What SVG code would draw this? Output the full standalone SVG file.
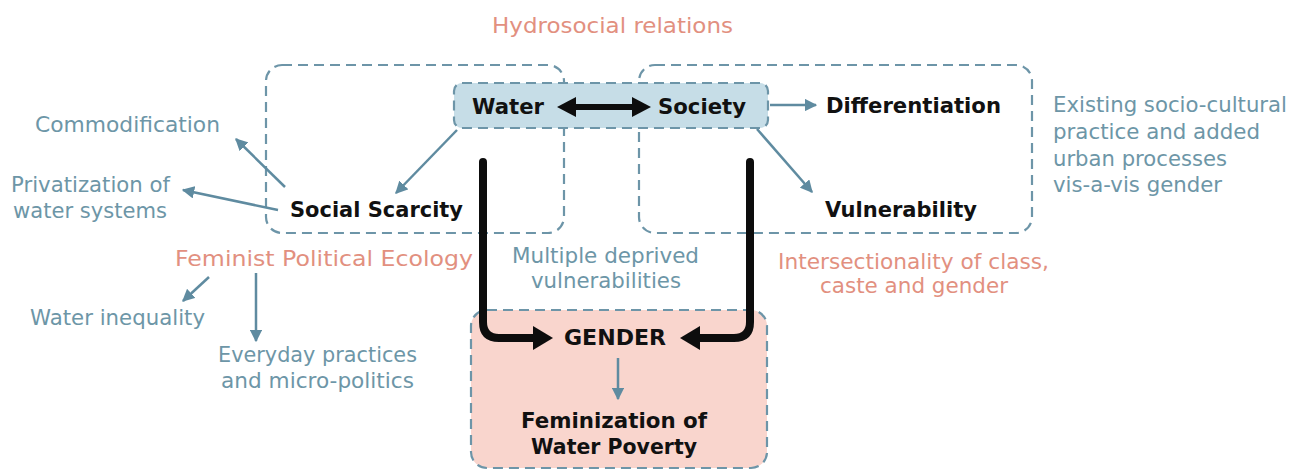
<svg xmlns="http://www.w3.org/2000/svg" width="1299" height="471" viewBox="0 0 1299 471">
<defs>
<marker id="ah" viewBox="0 0 10 10" refX="9" refY="5" markerWidth="5" markerHeight="5" orient="auto" markerUnits="strokeWidth">
<path d="M0,0 L10,5 L0,10 z" fill="#5f8ba0"/>
</marker>
<style>
.dash{fill:none;stroke:#6d95a8;stroke-width:2.2;stroke-dasharray:10 6}
.b{font-family:"DejaVu Sans","Open Sans","Liberation Sans",sans-serif;font-weight:700;font-size:22px;fill:#111}
.t{font-family:"DejaVu Sans","Open Sans","Liberation Sans",sans-serif;font-size:20.5px;fill:#6d96a7}
.s{font-family:"DejaVu Sans","Open Sans","Liberation Sans",sans-serif;font-size:21px;fill:#e2907f}
.ar{fill:none;stroke:#5f8ba0;stroke-width:2.5;marker-end:url(#ah)}
.thick{fill:none;stroke:#0d0d0d;stroke-width:8;stroke-linecap:round;stroke-linejoin:round}
</style>
</defs>
<rect width="1299" height="471" fill="#fff"/>

<g id="hydrosocial-left-box"><rect class="dash" x="266" y="65" width="298" height="168" rx="16"/></g>
<g id="hydrosocial-right-box"><rect class="dash" x="639" y="65" width="393" height="168" rx="16"/></g>
<g id="title"><text class="s" x="492" y="33" textLength="241" lengthAdjust="spacingAndGlyphs">Hydrosocial relations</text></g>

<g id="water-society">
<rect x="454" y="83" width="314" height="45" rx="8" fill="#c6dde7" stroke="#6d95a8" stroke-width="2.2" stroke-dasharray="10 6"/>
<text class="b" x="472" y="114" textLength="72" lengthAdjust="spacingAndGlyphs">Water</text>
<text class="b" x="658" y="114" textLength="88" lengthAdjust="spacingAndGlyphs">Society</text>
</g>

<g id="gender-box">
<rect x="471" y="310" width="296" height="158" rx="16" fill="#f9d5cd" stroke="#6d95a8" stroke-width="2.2" stroke-dasharray="10 6"/>
<text class="b" x="564" y="345" textLength="102" lengthAdjust="spacingAndGlyphs">GENDER</text>
<text class="b" x="521" y="428" textLength="186" lengthAdjust="spacingAndGlyphs">Feminization of</text>
<text class="b" x="531" y="454" textLength="166" lengthAdjust="spacingAndGlyphs">Water Poverty</text>
</g>

<g id="differentiation"><text class="b" x="826" y="113" textLength="175" lengthAdjust="spacingAndGlyphs">Differentiation</text></g>
<g id="vulnerability"><text class="b" x="825" y="217" textLength="152" lengthAdjust="spacingAndGlyphs">Vulnerability</text></g>
<g id="social-scarcity"><text class="b" x="290" y="217" textLength="173" lengthAdjust="spacingAndGlyphs">Social Scarcity</text></g>
<g id="commodification"><text class="t" x="35" y="132" textLength="185" lengthAdjust="spacingAndGlyphs">Commodification</text></g>
<g id="privatization"><text class="t" x="11" y="192" textLength="159" lengthAdjust="spacingAndGlyphs">Privatization of</text><text class="t" x="13" y="218" textLength="154" lengthAdjust="spacingAndGlyphs">water systems</text></g>
<g id="fpe"><text class="s" x="175" y="266" textLength="298" lengthAdjust="spacingAndGlyphs">Feminist Political Ecology</text></g>
<g id="water-inequality"><text class="t" x="30" y="325" textLength="175" lengthAdjust="spacingAndGlyphs">Water inequality</text></g>
<g id="everyday"><text class="t" x="218" y="362" textLength="199" lengthAdjust="spacingAndGlyphs">Everyday practices</text><text class="t" x="221" y="388" textLength="193" lengthAdjust="spacingAndGlyphs">and micro-politics</text></g>
<g id="multiple"><text class="t" x="512" y="263" textLength="187" lengthAdjust="spacingAndGlyphs">Multiple deprived</text><text class="t" x="531" y="288" textLength="150" lengthAdjust="spacingAndGlyphs">vulnerabilities</text></g>
<g id="intersectionality"><text class="s" x="778" y="269" textLength="271" lengthAdjust="spacingAndGlyphs">Intersectionality of class,</text><text class="s" x="820" y="293" textLength="188" lengthAdjust="spacingAndGlyphs">caste and gender</text></g>
<g id="existing"><text class="t" x="1053" y="112" textLength="234" lengthAdjust="spacingAndGlyphs">Existing socio-cultural</text><text class="t" x="1053" y="139" textLength="207" lengthAdjust="spacingAndGlyphs">practice and added</text><text class="t" x="1053" y="166" textLength="174" lengthAdjust="spacingAndGlyphs">urban processes</text><text class="t" x="1053" y="192" textLength="169" lengthAdjust="spacingAndGlyphs">vis-a-vis gender</text></g>

<g id="connectors">
<line class="ar" x1="770" y1="105" x2="816" y2="105"/>
<line class="ar" x1="757" y1="129" x2="812" y2="192"/>
<line class="ar" x1="457" y1="130" x2="396" y2="193"/>
<line class="ar" x1="285" y1="187" x2="236" y2="139"/>
<line class="ar" x1="278" y1="210" x2="183" y2="190"/>
<line class="ar" x1="209" y1="277" x2="183" y2="301"/>
<line class="ar" x1="256" y1="273" x2="256" y2="341"/>
<line class="ar" x1="618" y1="358" x2="618" y2="399"/>
<line x1="572" y1="107" x2="636" y2="107" stroke="#0d0d0d" stroke-width="6"/>
<polygon points="557,107 576,97 576,117" fill="#0d0d0d"/>
<polygon points="651,107 632,97 632,117" fill="#0d0d0d"/>
<path class="thick" d="M483,162 V322 Q483,338 499,338 H538"/>
<polygon points="553,338 533,326 533,350" fill="#0d0d0d"/>
<path class="thick" d="M750,162 V322 Q750,338 734,338 H695"/>
<polygon points="680,338 700,326 700,350" fill="#0d0d0d"/>
</g>
</svg>
